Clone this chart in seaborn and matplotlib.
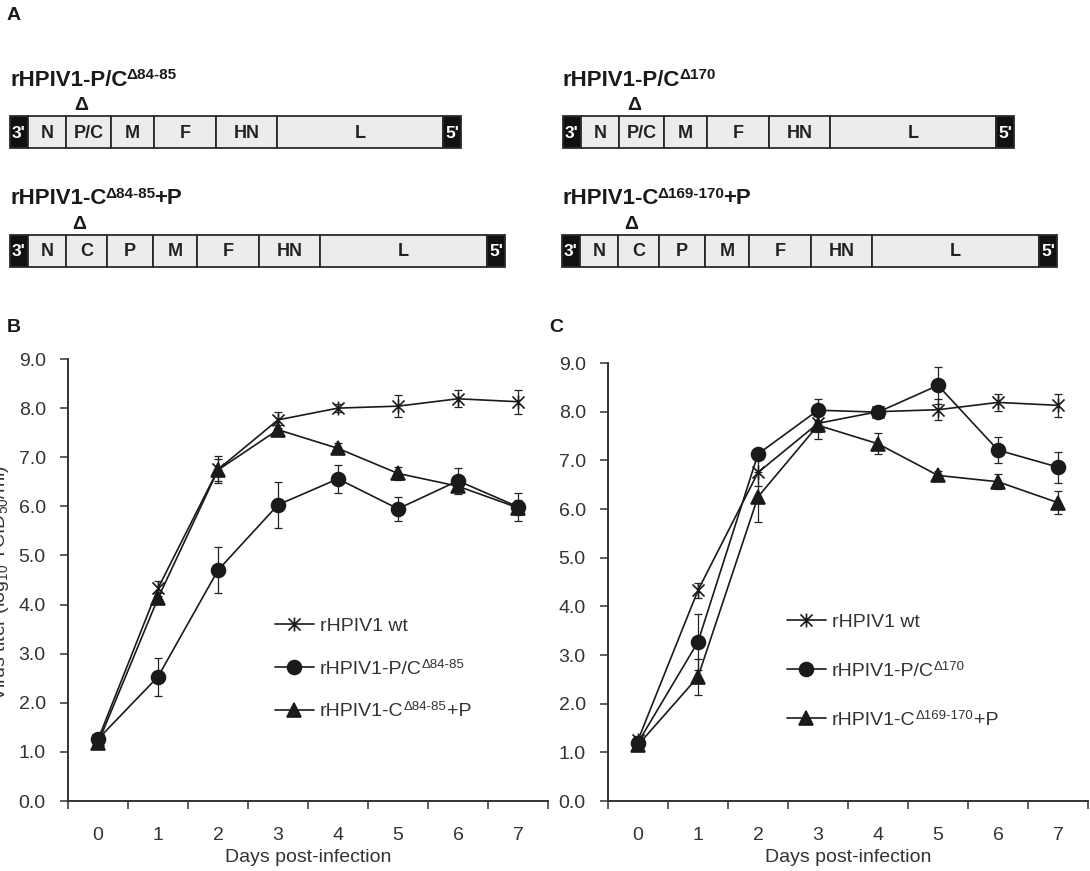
import numpy as np
import pandas as pd
import matplotlib
matplotlib.use("Agg")
import matplotlib.pyplot as plt
import seaborn as sns
from matplotlib.path import Path
from matplotlib.lines import Line2D

# ---------------- data ----------------
days = [0, 1, 2, 3, 4, 5, 6, 7]
day_labels = ["0", "1", "2", "3", "4", "5", "6", "7"]
y_ticks = [0, 1, 2, 3, 4, 5, 6, 7, 8, 9]
y_tick_labels = ["0.0", "1.0", "2.0", "3.0", "4.0", "5.0", "6.0", "7.0", "8.0", "9.0"]

wt_titer = [1.25, 4.33, 6.75, 7.76, 8.00, 8.04, 8.19, 8.13]
wt_err = [0.08, 0.15, 0.27, 0.17, 0.08, 0.22, 0.17, 0.24]

pc8485_titer = [1.26, 2.53, 4.70, 6.03, 6.56, 5.95, 6.52, 5.99]
pc8485_err = [0.08, 0.39, 0.47, 0.47, 0.29, 0.25, 0.26, 0.28]
cp8485_titer = [1.18, 4.13, 6.74, 7.56, 7.18, 6.67, 6.41, 5.97]
cp8485_err = [0.08, 0.10, 0.22, 0.10, 0.10, 0.14, 0.10, 0.15]

pc170_titer = [1.20, 3.27, 7.13, 8.03, 7.99, 8.54, 7.21, 6.86]
pc170_err = [0.08, 0.57, 0.10, 0.23, 0.12, 0.38, 0.27, 0.32]
cp169_titer = [1.15, 2.55, 6.25, 7.72, 7.34, 6.69, 6.56, 6.13]
cp169_err = [0.08, 0.37, 0.51, 0.28, 0.22, 0.10, 0.15, 0.23]

b_labels = ["rHPIV1 wt", "rHPIV1-P/C", "rHPIV1-C"]
b_sups = ["", "\u039484-85", "\u039484-85"]
b_suffix = ["", "", "+P"]
c_labels = ["rHPIV1 wt", "rHPIV1-P/C", "rHPIV1-C"]
c_sups = ["", "\u0394170", "\u0394169-170"]
c_suffix = ["", "", "+P"]

genome_pc = ["3'", "N", "P/C", "M", "F", "HN", "L", "5'"]
length_pc = [18, 38, 45, 43, 62, 61, 166, 18]
genome_cp = ["3'", "N", "C", "P", "M", "F", "HN", "L", "5'"]
length_cp = [18, 38, 41, 46, 44, 62, 61, 167, 18]

titles_a = [("rHPIV1-P/C", "\u039484-85", ""), ("rHPIV1-C", "\u039484-85", "+P"),
            ("rHPIV1-P/C", "\u0394170", ""), ("rHPIV1-C", "\u0394169-170", "+P")]

# ---------------- style ----------------
sns.set_theme(style="white")
plt.rcParams["font.family"] = ["Liberation Sans", "DejaVu Sans"]
plt.rcParams["mathtext.fontset"] = "custom"
plt.rcParams["mathtext.rm"] = "Liberation Sans"
plt.rcParams["mathtext.default"] = "regular"

W, H = 1090, 871
fig = plt.figure(figsize=(W / 100, H / 100), dpi=100)
fig.patch.set_facecolor("white")
renderer = fig.canvas.get_renderer()
DARK = "#1a1a1a"
GREY = "#333333"


def fx(px):
    return px / W


def fy(py):
    return 1 - py / H


def rich(x_px, base_px, parts, weight="bold", color=DARK, tighten=0.0):
    """parts: list of (text, fontsize, raise_px)"""
    x = x_px
    for s, size, rz in parts:
        if not s:
            continue
        t = fig.text(fx(x), fy(base_px - rz), s, fontsize=size, weight=weight,
                     va="baseline", ha="left", color=color)
        bb = t.get_window_extent(renderer=renderer)
        x = bb.x1 + 0.5 - tighten


# ---------------- panel A ----------------
axA = fig.add_axes([0, 0, 1, 1], zorder=0)
axA.set_xlim(0, W)
axA.set_ylim(H, 0)
axA.axis("off")

rows = [(10, 116, genome_pc, length_pc, titles_a[0]),
        (10, 234.5, genome_cp, length_cp, titles_a[1]),
        (563, 116, genome_pc, length_pc, titles_a[2]),
        (562, 234.5, genome_cp, length_cp, titles_a[3])]
BAR_H = 32
for x0, top, names, lens, title in rows:
    lefts = x0 + np.concatenate([[0], np.cumsum(lens)[:-1]])
    colors = ["#111111" if n in ("3'", "5'") else "#ececec" for n in names]
    axA.barh(top + BAR_H / 2, lens, left=lefts, height=BAR_H, color=colors,
             edgecolor="#2a2a2a", linewidth=1.3)
    for n, l, w in zip(names, lefts, lens):
        end = n in ("3'", "5'")
        axA.text(l + w / 2, top + BAR_H / 2 + 1, n, ha="center", va="center",
                 fontsize=12.5 if end else 13, weight="bold",
                 color="white" if end else "#222222")
    # deletion marker above P/C or C gene
    k = 2
    axA.text(lefts[k] + lens[k] * 0.33, top - 10, "\u0394", ha="center", va="center",
             fontsize=14, weight="bold", color=DARK)
    rich(x0, top - 30, [(title[0], 16, 0), (title[1], 11, 7), (title[2], 16, 0)],
         tighten=1.5)

fig.text(fx(7), fy(16), "A", fontsize=14, weight="bold", va="center", ha="left", color=DARK)
fig.text(fx(7), fy(328), "B", fontsize=14, weight="bold", va="center", ha="left", color=DARK)
fig.text(fx(549), fy(328), "C", fontsize=14, weight="bold", va="center", ha="left", color=DARK)

# ---------------- panels B and C ----------------
star = Path([(-1, -1), (1, 1), (-1, 1), (1, -1), (0, -1.15), (0, 1.15)],
            [Path.MOVETO, Path.LINETO, Path.MOVETO, Path.LINETO, Path.MOVETO, Path.LINETO])
marker_list = [star, "o", "^"]


def panel(rect, series, errs, labels, sups, suffix, leg_x, leg_top, leg_space):
    ax = fig.add_axes(rect, zorder=2)
    ax.patch.set_alpha(0)
    names = [a + b + c for a, b, c in zip(labels, sups, suffix)]
    df = pd.DataFrame({
        "day": days * len(series),
        "titer": sum([list(s) for s in series], []),
        "virus": sum([[n] * len(days) for n in names], []),
    })
    for v, e in zip(series, errs):
        ax.errorbar(days, v, yerr=e, fmt="none", ecolor="#222222", elinewidth=0.9,
                    capsize=3.2, capthick=0.9, zorder=1.5)
    sns.lineplot(data=df, x="day", y="titer", hue="virus", style="virus",
                 hue_order=names, style_order=names, palette=[DARK] * 3,
                 markers=marker_list, dashes=False, markersize=10, linewidth=1.2,
                 markeredgecolor=DARK, markeredgewidth=1.2, legend=False,
                 errorbar=None, ax=ax, zorder=3)
    ax.set_xlim(-0.5, 7.5)
    ax.set_ylim(0, 9)
    ax.set_yticks(y_ticks)
    ax.set_yticklabels(y_tick_labels)
    ax.set_xticks(days)
    ax.set_xticklabels(day_labels)
    ax.set_xticks(np.arange(-0.5, 8, 1), minor=True)
    ax.tick_params(axis="y", which="major", direction="out", length=6, width=1.1,
                   pad=10, labelsize=14, labelcolor=GREY, color=GREY, left=True)
    ax.tick_params(axis="x", which="major", length=0, pad=19, labelsize=14,
                   labelcolor=GREY, bottom=True)
    ax.tick_params(axis="x", which="minor", direction="out", length=6, width=1.1,
                   color=GREY, bottom=True)
    for s in ("top", "right"):
        ax.spines[s].set_visible(False)
    for s in ("left", "bottom"):
        ax.spines[s].set_linewidth(1.4)
        ax.spines[s].set_color(GREY)
    ax.set_xlabel("Days post-infection", fontsize=14, color=GREY, labelpad=3)
    ax.set_ylabel("")
    ax.grid(False)

    handles = [Line2D([0], [0], color=DARK, lw=1.2, marker=m, markersize=10,
                      markeredgecolor=DARK, markeredgewidth=1.2) for m in marker_list]
    leg = ax.legend(handles, labels, loc="upper left",
                    bbox_to_anchor=(fx(leg_x), fy(leg_top)),
                    bbox_transform=fig.transFigure, frameon=False, fontsize=14,
                    handlelength=2.0, handletextpad=0.3, labelspacing=leg_space,
                    borderpad=0, borderaxespad=0)
    for t in leg.get_texts():
        t.set_color(GREY)
    fig.canvas.draw()
    _, _, lp_d = renderer.get_text_width_height_descent(
        "lp", leg.get_texts()[0].get_fontproperties(), ismath=False)
    for t, sp, sf in zip(leg.get_texts(), sups, suffix):
        if not sp and not sf:
            continue
        bb = t.get_window_extent(renderer=renderer)
        base_top = H - (bb.y0 + lp_d)
        rich(bb.x1 + 0.5, base_top, [(sp, 9.5, 6), (sf, 14, 0)], weight="normal", color=GREY)
    return ax


axB = panel([fx(68), fy(801), fx(548 - 68), (801 - 359) / H],
            [wt_titer, pc8485_titer, cp8485_titer], [wt_err, pc8485_err, cp8485_err],
            b_labels, b_sups, b_suffix, 275, 617, 1.3)
axC = panel([fx(608), fy(801), fx(1088 - 608), (801 - 363) / H],
            [wt_titer, pc170_titer, cp169_titer], [wt_err, pc170_err, cp169_err],
            c_labels, c_sups, c_suffix, 787, 613, 1.63)

fig.text(fx(1), fy(583), "Virus titer (log$_{10}$ TCID$_{50}$/ml)", rotation=90,
         ha="center", va="center", fontsize=14, color=GREY)

fig.savefig("out.png", dpi=100, facecolor="white")
